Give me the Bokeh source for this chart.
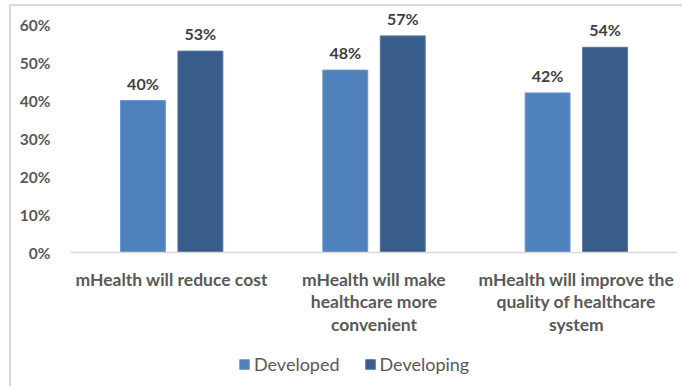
from bokeh.plotting import figure
from bokeh.models import ColumnDataSource, Range1d, NumeralTickFormatter, FixedTicker, Legend, LegendItem, Span
from bokeh.transform import dodge
from bokeh.core.properties import value
from bokeh.embed import file_html
from bokeh.resources import INLINE

categories = [
    "mHealth will reduce cost",
    "mHealth will make healthcare more convenient",
    "mHealth will improve the quality of healthcare system",
]
category_labels = [
    "mHealth will reduce cost",
    "mHealth will make\nhealthcare more\nconvenient",
    "mHealth will improve the\nquality of healthcare\nsystem",
]
developed = [0.40, 0.48, 0.42]
developing = [0.53, 0.57, 0.54]
series_names = ["Developed", "Developing"]
y_ticks = [0, 0.1, 0.2, 0.3, 0.4, 0.5, 0.6]

FONT = "Lato"
C1 = "#4F81BD"
C2 = "#385D8A"

# layout constants (pixels)
W, H = 673, 382
BASE_PX = 246          # canvas y of the 0% baseline
PX_PER_UNIT = 380.0    # pixels per 100%

xpos = [i + 0.5 for i in range(len(categories))]
src = ColumnDataSource(dict(
    x=xpos,
    dev=developed,
    dvg=developing,
    dev_lbl=[f"{round(v*100)}%" for v in developed],
    dvg_lbl=[f"{round(v*100)}%" for v in developing],
    cat_lbl=category_labels,
    zero=[0] * len(categories),
))

p = figure(width=W, height=H,
           x_range=Range1d(0, len(categories)),
           y_range=Range1d(-(H - BASE_PX) / PX_PER_UNIT, BASE_PX / PX_PER_UNIT),
           output_backend="svg", toolbar_location=None,
           min_border_left=59, min_border_right=7, min_border_top=0, min_border_bottom=0,
           x_axis_location=None,
           margin=(4, 0, 0, 9),
           styles={"border-left": "2px solid #d9d9d9", "border-top": "2px solid #d9d9d9"})
p.outline_line_color = None
p.grid.grid_line_color = None

w = 0.222
off = 0.142
r1 = p.vbar(x=dodge("x", -off), top="dev", width=w, source=src,
            fill_color=C1, line_color="#6f97c9", line_width=1)
r2 = p.vbar(x=dodge("x", off), top="dvg", width=w, source=src,
            fill_color=C2, line_color="#5577a0", line_width=1)

p.add_layout(Span(location=0, dimension="width", line_color="#d9d9d9", line_width=1.5))

for col, yc, o in (("dev_lbl", "dev", -off), ("dvg_lbl", "dvg", off)):
    p.text(x=dodge("x", o), y=yc, text=col, source=src,
           text_font=value(FONT), text_font_style="bold", text_font_size="16px",
           text_color="#404040", text_align="center", text_baseline="bottom", y_offset=-8)

# category labels (below the baseline)
p.text(x="x", y="zero", text="cat_lbl", source=src,
       text_font=value(FONT), text_font_style="bold", text_font_size="17.5px",
       text_color="#595959", text_align="center", text_baseline="top",
       text_line_height=1.085, y_offset=16)

p.yaxis.ticker = FixedTicker(ticks=y_ticks)
p.yaxis.formatter = NumeralTickFormatter(format="0%")
p.yaxis.axis_line_color = None
p.yaxis.major_tick_line_color = None
p.yaxis.minor_tick_line_color = None
p.yaxis.major_label_standoff = 14
p.yaxis.major_label_text_font = FONT
p.yaxis.major_label_text_font_style = "bold"
p.yaxis.major_label_text_font_size = "15.5px"
p.yaxis.major_label_text_color = "#595959"

legend = Legend(items=[LegendItem(label=series_names[0], renderers=[r1]),
                       LegendItem(label=series_names[1], renderers=[r2])],
                location=(168, 13), orientation="horizontal",
                label_text_font=FONT, label_text_font_size="18px", label_text_color="#595959",
                glyph_width=12, glyph_height=12, label_standoff=4, spacing=24,
                padding=0, margin=0, border_line_color=None, background_fill_alpha=0)
p.add_layout(legend, "center")

open("out.html", "w").write(file_html(p, INLINE))
